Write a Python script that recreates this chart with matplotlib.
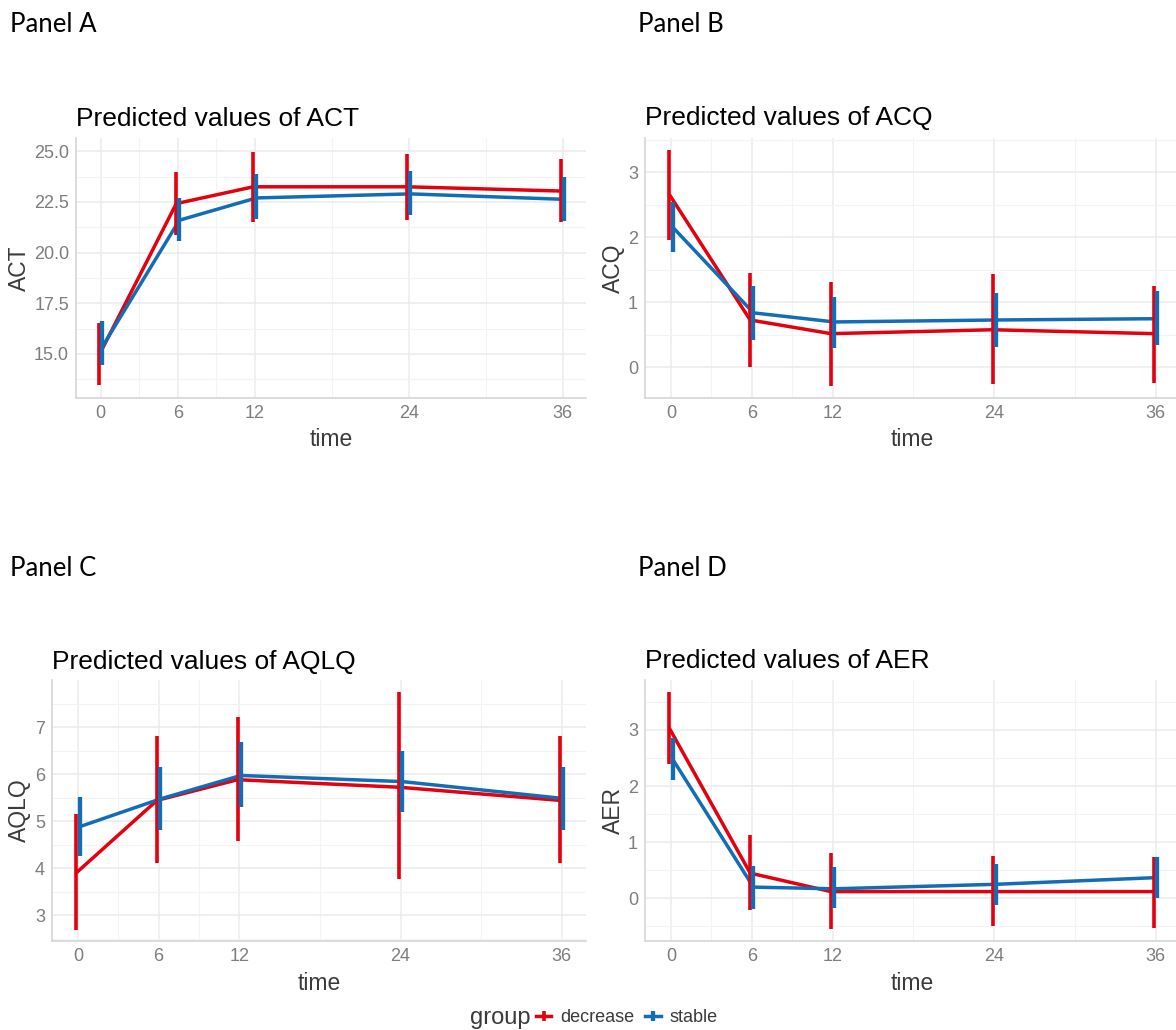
import matplotlib
matplotlib.use("Agg")
import matplotlib.pyplot as plt
from matplotlib.lines import Line2D
from matplotlib.ticker import FixedLocator
import numpy as np

# ---------------- data ----------------
time = [0, 6, 12, 24, 36]
groups = ["decrease", "stable"]

act_dec = [14.95, 22.42, 23.25, 23.25, 23.04]
act_dec_lo = [13.45, 20.87, 21.53, 21.60, 21.53]
act_dec_hi = [16.52, 23.97, 24.95, 24.87, 24.60]
act_sta = [15.35, 21.60, 22.70, 22.90, 22.63]
act_sta_lo = [14.43, 20.58, 21.64, 21.85, 21.56]
act_sta_hi = [16.60, 22.70, 23.90, 24.02, 23.73]

acq_dec = [2.66, 0.73, 0.52, 0.58, 0.52]
acq_dec_lo = [1.96, 0.01, -0.28, -0.26, -0.24]
acq_dec_hi = [3.35, 1.45, 1.31, 1.44, 1.26]
acq_sta = [2.16, 0.84, 0.70, 0.73, 0.75]
acq_sta_lo = [1.77, 0.43, 0.30, 0.31, 0.35]
acq_sta_hi = [2.55, 1.25, 1.08, 1.14, 1.17]

aqlq_dec = [3.90, 5.44, 5.88, 5.72, 5.44]
aqlq_dec_lo = [2.69, 4.11, 4.57, 3.76, 4.11]
aqlq_dec_hi = [5.16, 6.81, 7.21, 7.74, 6.81]
aqlq_sta = [4.88, 5.47, 5.97, 5.84, 5.48]
aqlq_sta_lo = [4.26, 4.80, 5.30, 5.20, 4.82]
aqlq_sta_hi = [5.51, 6.14, 6.69, 6.49, 6.16]

aer_dec = [3.03, 0.45, 0.12, 0.12, 0.12]
aer_dec_lo = [2.40, -0.20, -0.54, -0.50, -0.52]
aer_dec_hi = [3.68, 1.12, 0.80, 0.75, 0.74]
aer_sta = [2.48, 0.20, 0.17, 0.25, 0.37]
aer_sta_lo = [2.11, -0.19, -0.18, -0.11, 0.01]
aer_sta_hi = [2.86, 0.58, 0.55, 0.62, 0.74]

yticks_act = [15.0, 17.5, 20.0, 22.5, 25.0]
yticks_acq = [0, 1, 2, 3]
yticks_aqlq = [3, 4, 5, 6, 7]
yticks_aer = [0, 1, 2, 3]

# ---------------- style ----------------
W, H = 1176, 1030
RED = "#e3000f"
BLUE = "#136db5"
TICKC = "#7d7d7d"
GRID = "#ebebeb"
GRIDMIN = "#f3f3f3"
FONT = ["Liberation Sans", "DejaVu Sans"]
plt.rcParams["font.family"] = FONT

fig = plt.figure(figsize=(W / 100, H / 100), dpi=100)
fig.patch.set_facecolor("white")


def pos(l, r, t, b):
    return [l / W, 1 - b / H, (r - l) / W, (b - t) / H]


def fx(x):
    return x / W


def fy(y):
    return 1 - y / H


panels = [
    dict(label="Panel A", lab_xy=(10, 25), box=(76, 586, 138, 398), title="Predicted values of ACT",
         ylab="ACT", ylab_x=19, ylim=(12.82, 25.66), yticks=yticks_act, fmt="{:.1f}",
         dec=(act_dec, act_dec_lo, act_dec_hi), sta=(act_sta, act_sta_lo, act_sta_hi)),
    dict(label="Panel B", lab_xy=(638, 25), box=(645, 1180, 138, 398), title="Predicted values of ACQ",
         ylab="ACQ", ylab_x=613, ylim=(-0.47, 3.53), yticks=yticks_acq, fmt="{:d}",
         dec=(acq_dec, acq_dec_lo, acq_dec_hi), sta=(acq_sta, acq_sta_lo, acq_sta_hi)),
    dict(label="Panel C", lab_xy=(10, 568), box=(52, 586, 680, 941), title="Predicted values of AQLQ",
         ylab="AQLQ", ylab_x=19, ylim=(2.45, 8.0), yticks=yticks_aqlq, fmt="{:d}",
         dec=(aqlq_dec, aqlq_dec_lo, aqlq_dec_hi), sta=(aqlq_sta, aqlq_sta_lo, aqlq_sta_hi)),
    dict(label="Panel D", lab_xy=(638, 568), box=(645, 1180, 680, 941), title="Predicted values of AER",
         ylab="AER", ylab_x=613, ylim=(-0.76, 3.89), yticks=yticks_aer, fmt="{:d}",
         dec=(aer_dec, aer_dec_lo, aer_dec_hi), sta=(aer_sta, aer_sta_lo, aer_sta_hi)),
]

t = np.array(time, dtype=float)
dodge = 0.12

for p in panels:
    l, r, tp, b = p["box"]
    ax = fig.add_axes(pos(l, r, tp, b))
    ax.set_facecolor("white")
    ax.set_xlim(-1.93, 37.8)
    ax.set_ylim(*p["ylim"])

    # grid
    ax.xaxis.set_major_locator(FixedLocator(time))
    ax.xaxis.set_minor_locator(FixedLocator([3, 9, 18, 30]))
    yt = p["yticks"]
    step = yt[1] - yt[0]
    ymin = [v - step / 2 for v in yt] + [yt[-1] + step / 2]
    ax.yaxis.set_major_locator(FixedLocator(yt))
    ax.yaxis.set_minor_locator(FixedLocator(ymin))
    ax.grid(which="major", color=GRID, lw=1.1, zorder=0)
    ax.grid(which="minor", color=GRIDMIN, lw=0.8, zorder=0)
    ax.set_axisbelow(True)

    ax.set_xticklabels([str(v) for v in time])
    ax.set_yticklabels([p["fmt"].format(v) for v in yt])
    ax.tick_params(which="both", length=0, labelsize=13, labelcolor=TICKC, pad=5)

    for s in ("top", "right"):
        ax.spines[s].set_visible(False)
    for s in ("left", "bottom"):
        ax.spines[s].set_color("#d6d6d6")
        ax.spines[s].set_linewidth(1.2)

    d, dlo, dhi = p["dec"]
    s_, slo, shi = p["sta"]
    ax.plot(t - dodge, d, color=RED, lw=2.5, zorder=3, solid_capstyle="butt")
    ax.plot(t + dodge, s_, color=BLUE, lw=2.5, zorder=3, solid_capstyle="butt")
    ax.vlines(t - dodge, dlo, dhi, color=RED, lw=2.6, zorder=4)
    ax.vlines(t + dodge, slo, shi, color=BLUE, lw=3.1, zorder=4)

    # texts
    fig.text(fx(p["lab_xy"][0]), fy(p["lab_xy"][1]), p["label"], family=["Lato", "DejaVu Sans"],
             fontsize=18.5, va="center", ha="left", color="black")
    fig.text(fx(l), fy(125.5 if tp < 500 else 668.5), p["title"], fontsize=19,
             va="baseline", ha="left", color="black")
    fig.text(fx(p["ylab_x"]), fy((tp + b) / 2), p["ylab"], rotation=90, fontsize=16.5,
             va="center", ha="center", color="#3a3a3a")
    fig.text(fx((l + r) / 2), fy(440 if tp < 500 else 983), "time",
             fontsize=16.5, va="center", ha="center", color="#3a3a3a")

# legend
fig.text(fx(470), fy(1018), "group", fontsize=17, va="center", ha="left", color="#3a3a3a")
handles = [Line2D([], [], color=RED, lw=2.5, marker="|", markersize=7, mew=2.6),
           Line2D([], [], color=BLUE, lw=2.5, marker="|", markersize=7, mew=3.1)]
fig.legend(handles, groups, loc="center left", bbox_to_anchor=(fx(536), fy(1018)), ncol=2,
           frameon=False, fontsize=13, handlelength=0.85, handletextpad=0.5, columnspacing=0.6,
           labelcolor="#3a3a3a", borderaxespad=0, borderpad=0)

fig.savefig("out.png", dpi=100, facecolor="white")
